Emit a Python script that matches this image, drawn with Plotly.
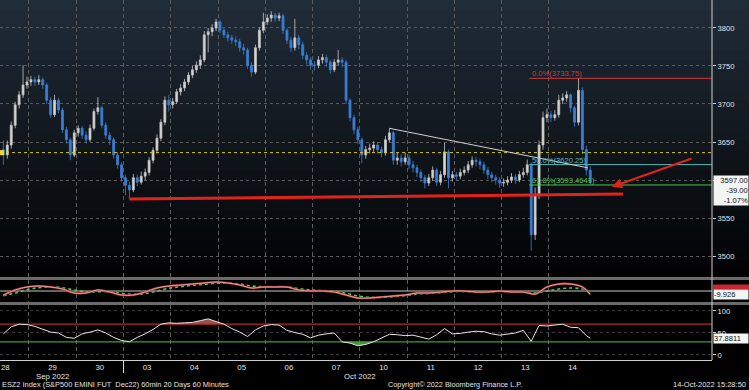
import plotly.graph_objects as go

# ---------------- data ----------------
day_labels = ["28", "29", "30", "03", "04", "05", "06", "07", "10", "11", "12", "13", "14"]
month_labels = ["Sep 2022", "Oct 2022"]
month_label_bars = [18, 96]
bars_per_day = 12
first_bar = 5
first_open = 3640

close = [3633, 3646, 3672, 3699, 3712, 3725, 3729,
         3732, 3729, 3732, 3725, 3705, 3686, 3705, 3692, 3666, 3653, 3633, 3662,
         3668, 3659, 3653, 3668, 3690, 3695, 3672, 3659, 3653, 3633, 3620, 3603,
         3593, 3587, 3603, 3597, 3605, 3610, 3626, 3639, 3655, 3676, 3705, 3699,
         3703, 3716, 3721, 3729, 3738, 3745, 3751, 3758, 3791, 3795, 3800, 3808,
         3797, 3791, 3787, 3784, 3782, 3774, 3771, 3751, 3742, 3774, 3797, 3808,
         3813, 3817, 3813, 3816, 3797, 3784, 3774, 3787, 3778, 3764, 3758, 3751,
         3751, 3758, 3761, 3755, 3745, 3755, 3758, 3755, 3705, 3682, 3666, 3653,
         3633, 3640, 3642, 3646, 3640, 3636, 3653, 3662, 3626, 3629, 3624, 3629,
         3620, 3616, 3610, 3603, 3596, 3603, 3613, 3597, 3607, 3637, 3603, 3607,
         3605, 3610, 3613, 3620, 3626, 3624, 3620, 3613, 3607, 3603, 3600, 3596,
         3597, 3600, 3604, 3600, 3607, 3610, 3620, 3528, 3580, 3646, 3682, 3686,
         3682, 3686, 3705, 3708, 3712, 3695, 3676, 3718, 3640, 3613, 3597]
high = [3652, 3652, 3677, 3703, 3717, 3751, 3736,
        3737, 3736, 3738, 3735, 3728, 3709, 3712, 3708, 3695, 3670, 3656, 3666,
        3672, 3671, 3664, 3673, 3694, 3709, 3698, 3676, 3663, 3656, 3637, 3623,
        3607, 3598, 3608, 3607, 3611, 3615, 3630, 3643, 3660, 3680, 3710, 3712,
        3708, 3720, 3726, 3733, 3742, 3750, 3756, 3764, 3796, 3800, 3805, 3812,
        3811, 3800, 3795, 3791, 3789, 3786, 3779, 3774, 3755, 3778, 3801, 3820,
        3818, 3822, 3820, 3820, 3819, 3800, 3788, 3812, 3791, 3782, 3768, 3762,
        3756, 3763, 3766, 3765, 3758, 3759, 3771, 3762, 3758, 3708, 3686, 3670,
        3656, 3645, 3648, 3651, 3650, 3644, 3658, 3668, 3665, 3636, 3634, 3636,
        3633, 3625, 3620, 3614, 3607, 3608, 3618, 3616, 3612, 3649, 3640, 3612,
        3611, 3615, 3618, 3625, 3631, 3630, 3628, 3624, 3617, 3611, 3607, 3604,
        3602, 3605, 3609, 3608, 3612, 3616, 3627, 3623, 3590, 3652, 3690, 3694,
        3691, 3692, 3712, 3714, 3717, 3714, 3698, 3733.75, 3722, 3645, 3618]
low = [3620, 3628, 3641, 3668, 3694, 3708, 3720,
       3724, 3724, 3725, 3720, 3700, 3682, 3683, 3688, 3662, 3648, 3626, 3630,
       3657, 3654, 3648, 3650, 3665, 3686, 3668, 3654, 3646, 3628, 3615, 3598,
       3580, 3575, 3584, 3592, 3594, 3600, 3606, 3622, 3635, 3651, 3672, 3690,
       3694, 3700, 3711, 3717, 3725, 3734, 3741, 3746, 3755, 3768, 3789, 3796,
       3793, 3787, 3782, 3779, 3776, 3769, 3765, 3746, 3736, 3739, 3770, 3793,
       3804, 3808, 3808, 3809, 3792, 3779, 3768, 3770, 3772, 3759, 3752, 3745,
       3744, 3747, 3753, 3749, 3740, 3742, 3751, 3748, 3700, 3677, 3660, 3647,
       3622, 3628, 3635, 3637, 3635, 3630, 3632, 3649, 3620, 3620, 3618, 3620,
       3614, 3610, 3604, 3597, 3589, 3592, 3599, 3592, 3593, 3603, 3589, 3598,
       3599, 3601, 3606, 3609, 3616, 3618, 3614, 3608, 3601, 3597, 3594, 3590,
       3591, 3593, 3596, 3595, 3597, 3603, 3606, 3506.75, 3521, 3575, 3640, 3676,
       3676, 3678, 3682, 3700, 3703, 3689, 3670, 3672, 3634, 3606, 3594]

macd_bars = list(range(5, 153, 3)) + [154]
macd = [-12, 3, 12, 15, 12, 6, -6, -6, 3, -3, -12, -12, -3, 9, 15, 18, 21, 24, 27, 24,
        18, 9, 12, 12, 12, 3, 0, 0, -3, -12, -21, -21, -18, -15, -12, -6, -6, -3, 0, 0,
        -3, -3, 0, -3, -3, -9, 12, 21, 21, 12, -9.926]
signal = [-14, -6, 4, 10, 12, 10, 3, -3, -2, -2, -7, -10, -8, 0, 8, 13, 17, 20, 23, 24,
          21, 15, 13, 12, 12, 7, 3, 1, -1, -7, -15, -19, -19, -17, -14, -9, -7, -5, -2, -1,
          -2, -3, -1, -2, -3, -6, 0, 6, 9, 6, -3]

rsi_bars = list(range(5, 155, 2)) + [154]
rsi = [48, 64, 70, 69, 65, 59, 52, 50, 40, 38, 48, 52, 57, 50, 40, 33, 30, 40, 48, 58,
       70, 73, 72, 73, 74, 78, 82, 76, 70, 60, 52, 42, 57, 66, 69, 68, 56, 51, 47, 39,
       45, 48, 50, 30, 27, 21, 24, 30, 38, 47, 46, 44, 45, 40, 36, 46, 60, 48, 49, 52,
       54, 53, 48, 45, 47, 50, 56, 31, 67, 66, 68, 70, 63, 62, 44, 37.8811]
rsi_upper = 70
rsi_lower = 30

price_ticks = [3500, 3550, 3600, 3650, 3700, 3750, 3800]
price_tick_text = ["3500", "3550", "", "3650", "3700", "3750", "3800"]
rsi_ticks = [0, 50, 100]

prior_close = 3636.0
last_price = 3597.00
net_change = -39.00
pct_change = -1.07

fib_levels = [3733.75, 3620.25, 3593.4641]
fib_labels = ["0.0%(3733.75)", "50.0%(3620.25)", "61.8%(3593.4641)"]
fib_colors = ["#d13a3a", "#5fb8b8", "#4cc24c"]
fib_start_bar = 139

trend_x = [103.5, 153.9]
trend_y = [3668, 3616]
support_x = [37.5, 162.8]
support_y = [3575, 3581.5]
arrow_tail = (180.6, 3629)
arrow_head = (160.0, 3591)

# ---------------- layout helpers ----------------
W, H = 749, 390
PL, PR, PT, PB = 0, 37, 0, 30
plot_w = W - PL - PR
plot_h = H - PT - PB
x_range = [4.65, 185.4]


def py(px):  # pixel row -> paper y
    return 1 - px / plot_h


n = len(close)
bar_x = [first_bar + i + 0.5 for i in range(n)]
opens = [first_open] + close[:-1]
day_centers = [bars_per_day * k + bars_per_day / 2 for k in range(len(day_labels))]
day_bounds = [bars_per_day * k for k in range(1, len(day_labels))]
mx = [b + 0.5 for b in macd_bars]
rx = [b + 0.5 for b in rsi_bars]

FONT = "Liberation Sans, Arial, sans-serif"
TXT = "#e2e2e2"

fig = go.Figure()

# RSI fills
fig.add_trace(go.Scatter(x=rx, y=[rsi_upper] * len(rx), xaxis="x", yaxis="y3",
                         mode="lines", line=dict(width=0), hoverinfo="skip", showlegend=False))
fig.add_trace(go.Scatter(x=rx, y=[max(v, rsi_upper) for v in rsi], xaxis="x", yaxis="y3",
                         mode="lines", line=dict(width=0), fill="tonexty",
                         fillcolor="rgba(215,105,105,0.75)", hoverinfo="skip", showlegend=False))
fig.add_trace(go.Scatter(x=rx, y=[rsi_lower] * len(rx), xaxis="x", yaxis="y3",
                         mode="lines", line=dict(width=0), hoverinfo="skip", showlegend=False))
fig.add_trace(go.Scatter(x=rx, y=[min(v, rsi_lower) for v in rsi], xaxis="x", yaxis="y3",
                         mode="lines", line=dict(width=0), fill="tonexty",
                         fillcolor="rgba(90,200,90,0.75)", hoverinfo="skip", showlegend=False))
fig.add_trace(go.Scatter(x=x_range, y=[rsi_upper] * 2, xaxis="x", yaxis="y3", mode="lines",
                         line=dict(color="#b8282c", width=1.3), showlegend=False))
fig.add_trace(go.Scatter(x=x_range, y=[rsi_lower] * 2, xaxis="x", yaxis="y3", mode="lines",
                         line=dict(color="#3f9a3f", width=1.3), showlegend=False))
fig.add_trace(go.Scatter(x=rx, y=rsi, xaxis="x", yaxis="y3", mode="lines",
                         line=dict(color="#e6e6e6", width=1), showlegend=False))

# MACD
fig.add_trace(go.Scatter(x=x_range, y=[0, 0], xaxis="x", yaxis="y2", mode="lines",
                         line=dict(color="#c8c8c8", width=1), showlegend=False))
fig.add_trace(go.Scatter(x=mx, y=signal, xaxis="x", yaxis="y2", mode="lines",
                         line=dict(color="#58c858", width=1.6, dash="dot", shape="spline"),
                         showlegend=False))
fig.add_trace(go.Scatter(x=mx, y=macd, xaxis="x", yaxis="y2", mode="lines",
                         line=dict(color="#b83030", width=2.2, shape="spline"), showlegend=False))
fig.add_trace(go.Scatter(x=mx, y=macd, xaxis="x", yaxis="y2", mode="lines",
                         line=dict(color="#f2d2d2", width=0.7, shape="spline"), showlegend=False))

# prior close dotted yellow
fig.add_trace(go.Scatter(x=x_range, y=[prior_close] * 2, xaxis="x", yaxis="y", mode="lines",
                         line=dict(color="#d8c830", width=1, dash="dot"), showlegend=False))
fig.add_trace(go.Scatter(x=[x_range[0] + 0.4], y=[prior_close], xaxis="x", yaxis="y",
                         mode="markers", marker=dict(symbol="square", size=5, color="#e8d830"),
                         cliponaxis=False, showlegend=False))

# fib lines
for lvl, col in zip(fib_levels, fib_colors):
    fig.add_trace(go.Scatter(x=[fib_start_bar, x_range[1]], y=[lvl, lvl], xaxis="x", yaxis="y",
                             mode="lines", line=dict(color=col, width=1), showlegend=False))

# candles
fig.add_trace(go.Candlestick(
    x=bar_x, open=opens, high=high, low=low, close=close, xaxis="x", yaxis="y",
    increasing=dict(line=dict(color="#c4c4c4", width=0.8), fillcolor="#d8d8d8"),
    decreasing=dict(line=dict(color="#3b7fd6", width=0.8), fillcolor="#3b7fd6"),
    whiskerwidth=0, showlegend=False))

# trend line and support
fig.add_trace(go.Scatter(x=trend_x, y=trend_y, xaxis="x", yaxis="y", mode="lines",
                         line=dict(color="#cfcfcf", width=1), showlegend=False))
fig.add_trace(go.Scatter(x=support_x, y=support_y, xaxis="x", yaxis="y", mode="lines",
                         line=dict(color="#e3231b", width=3), showlegend=False))

# ---------------- shapes ----------------
shapes = []
nb = 28
for i in range(nb):
    p0 = i * 10
    p1 = min((i + 1) * 10, 277)
    t = (p0 + 5) / 277
    r = int(33 - 31 * t)
    g = int(45 - 43 * t)
    b = int(57 - 54 * t)
    shapes.append(dict(type="rect", xref="paper", yref="paper", x0=0, x1=W / plot_w,
                       y0=py(p1), y1=py(p0), fillcolor=f"rgb({r},{g},{b})",
                       line=dict(width=0), layer="below"))
for a, bpx in [(277, 280), (302, 305)]:
    shapes.append(dict(type="rect", xref="paper", yref="paper", x0=0, x1=W / plot_w,
                       y0=py(bpx), y1=py(a), fillcolor="#6a6a6a", line=dict(width=0), layer="above"))
shapes.append(dict(type="line", xref="paper", yref="paper", x0=1, x1=1, y0=0, y1=1,
                   line=dict(color="#d0d0d0", width=1)))
shapes.append(dict(type="line", xref="x", yref="paper", x0=36, x1=36, y0=0, y1=py(373),
                   line=dict(color="#e0e0e0", width=1)))
shapes.append(dict(type="rect", xref="paper", yref="paper", x0=1.0015, x1=W / plot_w,
                   y0=py(289.5), y1=py(284.5), fillcolor="#c8282d", line=dict(width=0)))

# ---------------- annotations ----------------
ann = []
for lab, bx in zip(month_labels, month_label_bars):
    ann.append(dict(x=bx, y=py(376.5), xref="x", yref="paper", text=lab, showarrow=False,
                    font=dict(size=7.8, color=TXT, family=FONT), xanchor="center", yanchor="middle"))
ann.append(dict(x=0, y=py(384.5), xref="paper", yref="paper", xanchor="left", yanchor="middle",
                text="ESZ2 Index (S&P500 EMINI FUT\u00a0 Dec22) 60min 20 Days 60 Minutes",
                showarrow=False, font=dict(size=7.4, color=TXT, family=FONT)))
ann.append(dict(x=386 / plot_w, y=py(384.5), xref="paper", yref="paper", xanchor="left",
                yanchor="middle", text="Copyright\u00a9 2022 Bloomberg Finance L.P.",
                showarrow=False, font=dict(size=7.3, color=TXT, family=FONT)))
ann.append(dict(x=748 / plot_w, y=py(384.5), xref="paper", yref="paper", xanchor="right",
                yanchor="middle", text="14-Oct-2022 15:28:50",
                showarrow=False, font=dict(size=7.5, color=TXT, family=FONT)))
for lvl, lab, col in zip(fib_levels, fib_labels, fib_colors):
    ann.append(dict(x=fib_start_bar + 0.3, y=lvl, xref="x", yref="y", text=lab, showarrow=False,
                    xanchor="left", yanchor="bottom", yshift=-2,
                    font=dict(size=7.6, color=col, family=FONT)))
ann.append(dict(x=arrow_head[0], y=arrow_head[1], ax=arrow_tail[0], ay=arrow_tail[1],
                xref="x", yref="y", axref="x", ayref="y", text="", showarrow=True,
                arrowhead=2, arrowsize=1, arrowwidth=2, arrowcolor="#e3231b"))
ann.append(dict(x=1, xshift=1, y=last_price, xref="paper", yref="y", xanchor="left",
                yanchor="top", yshift=7, align="right", width=34, borderpad=0,
                text=f"{last_price:.2f}<br>{net_change:.2f}<br>{pct_change:.2f}%",
                showarrow=False, bgcolor="#f4f4f4",
                font=dict(size=7.6, color="#111111", family=FONT)))
ann.append(dict(x=1, xshift=1, y=macd[-1], xref="paper", yref="y2", xanchor="left",
                yanchor="middle", align="left", width=34, borderpad=0,
                text=f"{macd[-1]:.3f}", showarrow=False, bgcolor="#f4f4f4",
                font=dict(size=7.6, color="#111111", family=FONT)))
ann.append(dict(x=1, xshift=1, y=rsi[-1], xref="paper", yref="y3", xanchor="left",
                yanchor="middle", align="left", width=34, borderpad=0,
                text=f"{rsi[-1]:.4f}", showarrow=False, bgcolor="#f4f4f4",
                font=dict(size=7.6, color="#111111", family=FONT)))

fig.update_layout(
    width=W, height=H,
    margin=dict(l=PL, r=PR, t=PT, b=PB),
    paper_bgcolor="#000000",
    plot_bgcolor="rgba(0,0,0,0)",
    font=dict(family=FONT, color=TXT, size=8),
    showlegend=False,
    shapes=shapes,
    annotations=ann,
    xaxis=dict(domain=[0, 1], range=x_range, anchor="y3", tickmode="array",
               tickvals=day_centers, ticktext=day_labels, showgrid=False, zeroline=False,
               ticks="", tickfont=dict(size=7.8, color=TXT), showline=True,
               linecolor="#d0d0d0", linewidth=1, rangeslider=dict(visible=False),
               automargin=False, fixedrange=True,
               minor=dict(tickmode="array", tickvals=day_bounds, showgrid=True,
                          gridcolor="#5c5c5c", griddash="4px,3px", gridwidth=1, ticks="")),
    yaxis=dict(domain=[py(277), 1], range=[3472.4, 3836.8], side="right", anchor="x",
               tickmode="array", tickvals=price_ticks, ticktext=price_tick_text,
               showgrid=True, gridcolor="#5a5a5a", griddash="dot",
               zeroline=False, ticks="outside", ticklen=3, tickcolor="#d0d0d0",
               tickfont=dict(size=7.6, color=TXT), automargin=False),
    yaxis2=dict(domain=[py(302), py(280)], range=[-33, 33], side="right", anchor="x",
                showgrid=False, zeroline=False, showticklabels=False, ticks="",
                automargin=False),
    yaxis3=dict(domain=[0, py(305)], range=[-11.4, 113.6], side="right", anchor="x",
                tickmode="array", tickvals=rsi_ticks, showgrid=True, gridcolor="#3a3a3a",
                griddash="dot", zeroline=False, ticks="outside", ticklen=3,
                tickcolor="#d0d0d0", tickfont=dict(size=7.6, color=TXT), automargin=False),
)

fig.write_html("out.html", config={"displayModeBar": False},
               post_script="document.body.style.margin='0px';document.body.style.background='#000';")
